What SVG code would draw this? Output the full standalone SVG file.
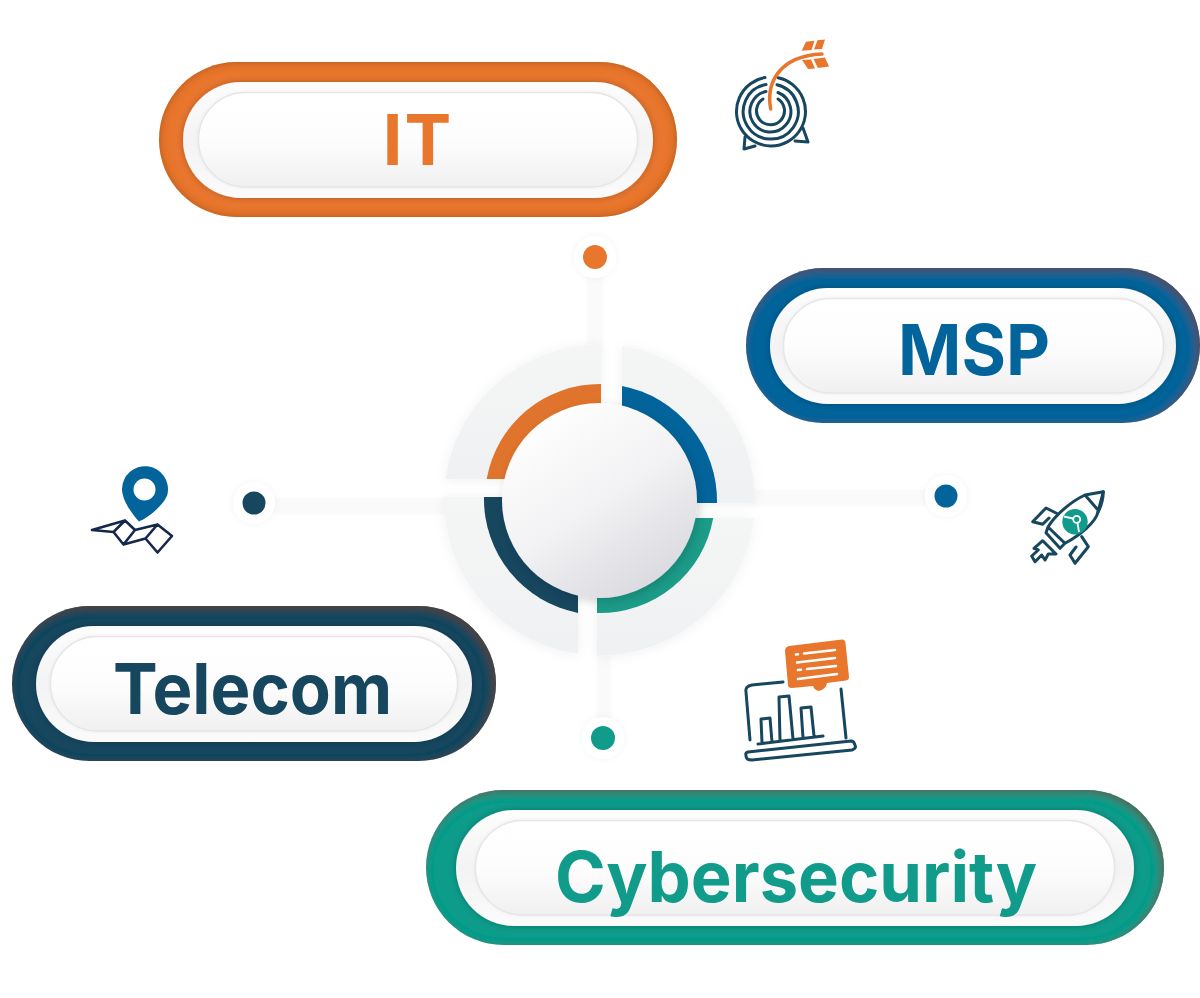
<svg xmlns="http://www.w3.org/2000/svg" width="1200" height="998" viewBox="0 0 1200 998">
<style>
.lbl{font-family:"Inter","Liberation Sans",sans-serif;font-weight:700;font-size:70px;text-anchor:middle}
.band{fill:url(#bandG);filter:url(#bandS)}
.core{fill:url(#coreG);stroke:#e6e6e8;stroke-width:1.500;filter:url(#soft)}
.sec{fill:url(#secG);filter:url(#secS)}
.strip{fill:#fafafa;filter:url(#stripS)}
.halo{fill:#fff;filter:url(#dotS)}
.ln{fill:none;stroke:#17465f;stroke-width:3;stroke-linecap:round;stroke-linejoin:round}
.ln2{fill:none;stroke:#14284b;stroke-width:2.600;stroke-linejoin:round;stroke-linecap:round}
.wl{fill:none;stroke:#fff;stroke-width:2.600;stroke-linecap:round}
</style>
<defs>
<linearGradient id="bandG" x1="0" y1="0" x2="0" y2="1"><stop offset="0" stop-color="#fdfdfd"/><stop offset=".5" stop-color="#f3f3f4"/><stop offset="1" stop-color="#fbfbfb"/></linearGradient>
<linearGradient id="coreG" x1="0" y1="0" x2="0" y2="1"><stop offset="0" stop-color="#fff"/><stop offset=".5" stop-color="#fdfdfd"/><stop offset="1" stop-color="#f0f0f1"/></linearGradient>
<linearGradient id="sphG" x1=".2" y1=".08" x2=".78" y2=".95"><stop offset="0" stop-color="#fefefe"/><stop offset=".5" stop-color="#f2f2f4"/><stop offset="1" stop-color="#d9d9df"/></linearGradient>
<linearGradient id="secG" x1="0" y1="0" x2="0" y2="1"><stop offset="0" stop-color="#f4f5f5"/><stop offset="1" stop-color="#f0f1f2"/></linearGradient>
<filter id="insetO" x="-5%" y="-10%" width="110%" height="120%"><feComponentTransfer in="SourceAlpha" result="inv"><feFuncA type="table" tableValues="1 0"/></feComponentTransfer><feGaussianBlur in="inv" stdDeviation="4" result="b"/><feFlood flood-color="#7a3a10" flood-opacity=".7"/><feComposite in2="b" operator="in"/><feComposite in2="SourceAlpha" operator="in" result="s"/><feMerge><feMergeNode in="SourceGraphic"/><feMergeNode in="s"/></feMerge></filter>
<filter id="insetB" x="-5%" y="-10%" width="110%" height="120%"><feComponentTransfer in="SourceAlpha" result="inv"><feFuncA type="table" tableValues="1 0"/></feComponentTransfer><feOffset in="inv" dx="-3" dy="3"/><feGaussianBlur stdDeviation="4" result="b"/><feFlood flood-color="#5c4020" flood-opacity=".75"/><feComposite in2="b" operator="in"/><feComposite in2="SourceAlpha" operator="in" result="s"/><feMerge><feMergeNode in="SourceGraphic"/><feMergeNode in="s"/></feMerge></filter>
<filter id="bandS" x="-5%" y="-15%" width="110%" height="130%"><feDropShadow dx="0" dy="0" stdDeviation="3" flood-color="#000" flood-opacity=".25"/></filter>
<filter id="soft" x="-5%" y="-10%" width="110%" height="120%"><feDropShadow dx="0" dy="0" stdDeviation="1.500" flood-color="#000" flood-opacity=".06"/></filter>
<filter id="secS" x="-15%" y="-15%" width="130%" height="130%"><feDropShadow dx="0" dy="1" stdDeviation="6" flood-color="#000" flood-opacity=".06"/></filter>
<filter id="stripS" x="-5%" y="-5%" width="110%" height="110%"><feDropShadow dx="0" dy="1" stdDeviation="2" flood-color="#000" flood-opacity=".035"/></filter>
<filter id="sphS" x="-15%" y="-15%" width="130%" height="130%"><feDropShadow dx="2" dy="3" stdDeviation="5" flood-color="#000" flood-opacity=".16"/></filter>
<filter id="dotS" x="-40%" y="-40%" width="180%" height="180%"><feDropShadow dx="0" dy="0" stdDeviation="3" flood-color="#000" flood-opacity=".05"/></filter>
</defs>

<g id="connectors">
<path class="strip" d="M588 270H602V350H588ZM270 498H450V512H270ZM750 490H930V503H750ZM598 650H610V722H598Z"/>
</g>

<g id="hub">
<path class="sec" d="M601 344.500A155.500 155.500 0 0 0 445.400 479L601 479Z"/>
<path class="sec" d="M622 346.100A155.500 155.500 0 0 1 755 503L622 503Z"/>
<path class="sec" d="M754 518A155.500 155.500 0 0 1 597 655.500L597 518Z"/>
<path class="sec" d="M578 654A155.500 155.500 0 0 1 444 497L578 497Z"/>
<path fill="#e0742c" d="M601 384A115 115 0 0 0 486.700 479L601 479Z"/>
<path fill="#02649a" d="M622 386A117 117 0 0 1 717 503L622 503Z"/>
<path fill="#1b9b88" d="M713.200 518A115 115 0 0 1 597 613L597 518Z"/>
<path fill="#17465f" d="M578 612.900A116 116 0 0 1 484 497L578 497Z"/>
<circle cx="599.500" cy="500.500" r="97.500" fill="url(#sphG)" filter="url(#sphS)"/>
</g>

<g id="dot-it"><circle class="halo" cx="595" cy="257" r="21"/><circle cx="595" cy="257" r="12" fill="#e8762d"/></g>
<g id="dot-msp"><circle class="halo" cx="946" cy="496" r="21"/><circle cx="946" cy="496" r="11.500" fill="#02649a"/></g>
<g id="dot-telecom"><circle class="halo" cx="254" cy="503" r="21"/><circle cx="254" cy="503" r="11.500" fill="#17465f"/></g>
<g id="dot-cyber"><circle class="halo" cx="603" cy="738" r="21"/><circle cx="603" cy="738" r="12" fill="#119b8a"/></g>

<g id="node-it">
<rect x="159" y="62" width="518" height="155" rx="77.500" fill="#e8762d" filter="url(#insetO)"/>
<rect class="band" x="183" y="82" width="470" height="116" rx="58"/>
<rect class="core" x="198.500" y="92.500" width="439" height="94.500" rx="47"/>
<text class="lbl" x="418" y="165" fill="#e8762d" letter-spacing="2">IT</text>
</g>
<g id="node-msp">
<rect x="746" y="268" width="454" height="155" rx="77.500" fill="#02649a" filter="url(#insetB)"/>
<rect class="band" x="770" y="288" width="406" height="116" rx="58"/>
<rect class="core" x="783.500" y="298.500" width="380" height="94.500" rx="47"/>
<text class="lbl" x="974" y="375" fill="#02649a" textLength="152" lengthAdjust="spacingAndGlyphs">MSP</text>
</g>
<g id="node-telecom">
<rect x="12" y="606" width="484" height="155" rx="77.500" fill="#17465f" filter="url(#insetB)"/>
<rect class="band" x="36" y="626" width="436" height="116" rx="58"/>
<rect class="core" x="50.500" y="636.500" width="407" height="94.500" rx="47"/>
<text class="lbl" x="252.500" y="714" fill="#17465f" textLength="279" lengthAdjust="spacingAndGlyphs">Telecom</text>
</g>
<g id="node-cyber">
<rect x="426" y="790" width="738" height="155" rx="77.500" fill="#119b8a" filter="url(#insetB)"/>
<rect class="band" x="456" y="810" width="678" height="116" rx="58"/>
<rect class="core" x="475.500" y="820.500" width="639" height="94.500" rx="47"/>
<text class="lbl" x="796" y="902" fill="#119b8a" textLength="482" lengthAdjust="spacingAndGlyphs">Cybersecurity</text>
</g>

<g id="icon-target">
<path class="ln" d="M765 77.500A34.500 34.500 0 1 0 778 77.700M766 84.500A27.500 27.500 0 1 0 777 84.800M766 91.500A20.500 20.500 0 1 0 778 92.500M763 99A14 14 0 1 0 778 99"/>
<path class="ln" d="M745 137L744 149L755 146M803 128L808 142L795 141"/>
<path fill="none" stroke="#e8762d" stroke-width="3.500" stroke-linecap="round" d="M770.700 109C766 84 778 56 822 54"/>
<path fill="#e8762d" d="M801.700 50.700L806 41.700L814.500 40.700L811.500 50ZM814 49.500L817.500 40.300L825 39.500L822 49ZM802 60L811 59.500L815 68.500L808 69ZM813.500 59L825 57.500L829 66.500L818 68Z"/>
</g>

<g id="icon-map">
<path fill="#02649a" fill-rule="evenodd" d="M122 489A23 23 0 1 1 167.500 494C165 504 148 518 139 521.500C132 514 122 500 122 489ZM133.500 489.500A11 11 0 1 0 155.500 489.500A11 11 0 1 0 133.500 489.500Z"/>
<path class="ln2" d="M92 530L125 520.500L135 530L157.500 524.500L172 536L157.500 552.500L145.500 538.500L123.500 544.500L113.500 532L125 520.500M113.500 532L92 530M135 530L123.500 544.500M157.500 524.500L145.500 538.500"/>
</g>

<g id="icon-rocket">
<path class="ln" d="M1103.300 491.700L1085 495C1072 501 1056 514 1048 527L1046 532.700L1060 548.300L1065 543.300C1080 535 1096 522 1098 512ZM1085 495L1098 510M1048 527L1065 543.300M1057 513.500L1046 508L1032.700 521.700L1042.700 524.300L1049 518M1081.700 536.700L1088.300 546.700L1075 563.300L1070 555L1076 547M1042.700 540.700L1056 554L1048.300 554L1045 560L1041.700 555L1035 561.700L1031.700 556L1038.300 550L1034 548.300Z"/>
<path class="ln" d="M1103.300 491.700Q1103 503 1098 512"/>
<circle cx="1075" cy="521.700" r="12.700" fill="#119b8a"/>
<circle cx="1076.700" cy="519.300" r="3.500" fill="#119b8a" stroke="#fff" stroke-width="1.800"/>
<path fill="none" stroke="#fff" stroke-width="1.800" d="M1077.500 523L1079 532M1073 518.500L1064 516.500"/>
</g>

<g id="icon-chart">
<path class="ln" d="M783 682L752 685Q745 686 746 692L750 740M841 689L846 738M748 752L851 741Q854 741 855 745L855.500 747Q855 749 852 750L752 760Q746 760 746 756L746 755Q745 753 748 752ZM758 744L823 736M762 743L761 719L770 718L772 742M780 741L779 697L789 696L793 739M803 738L801 708L811 707L814 736"/>
<path fill="#e8762d" d="M789 646L842 639.500Q845 639.500 845.500 643L849 677Q849 680 846 680.500L827 683Q826 689 819 691Q814 690 813 686L792 688Q788 688 788 685L785 651Q785 647 789 646Z"/>
<path class="wl" d="M796 654.500L798 654.300M804 653.500L835 650M797 662.500L835 658M798 670L801 669.700M807 669L836 666M798 679L837 674"/>
</g>
</svg>
